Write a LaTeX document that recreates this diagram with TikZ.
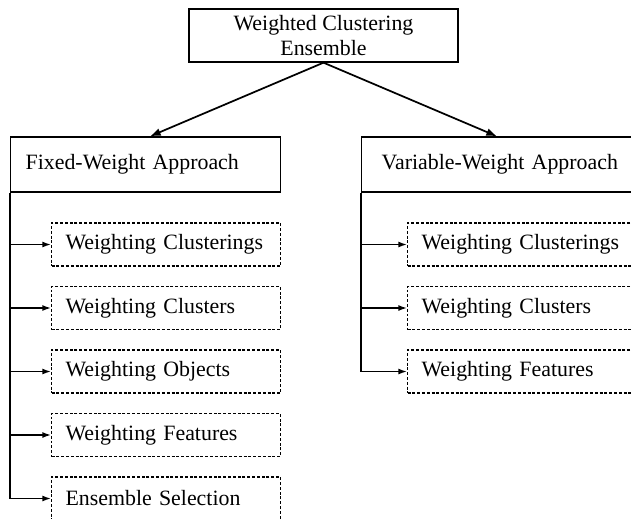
\documentclass[tikz,border=0pt]{standalone}
\usepackage{fontspec}
\setmainfont{Liberation Serif}
\usetikzlibrary{arrows.meta}
\tikzset{
	rootbox/.style={draw, line width=1pt, minimum width=201.75pt, minimum height=39.75pt, inner ysep=1pt, align=center},
	appbox/.style={draw, line width=1pt, minimum height=41.25pt, inner xsep=11.25pt, align=left, anchor=west},
	subbox/.style={draw, line width=0.85pt, dash pattern=on 2.2pt off 1.4pt, minimum width=171.75pt, minimum height=32.25pt, inner xsep=10.5pt, text width=150.75pt, align=left, anchor=west},
	mainarrow/.style={-{Latex[length=8pt,width=6pt]}, line width=1.3pt},
	subarrow/.style={-{Latex[length=6.5pt,width=4.5pt]}, line width=1.1pt}
}
\begin{document}
\begin{tikzpicture}[x=0.75pt, y=-0.75pt, font=\fontsize{16.4}{19}\selectfont]
	% page frame, same size as the reference
	\useasboundingbox (0,0) rectangle (631,518);
	\clip (0,0) rectangle (631,518);
	% the root
	\node[rootbox] (root) at (323.5,35.5) {Weighted Clustering\\Ensemble};
	% the two approaches
	\node[appbox, text width=180pt] (fixed) at (10,164.5) {Fixed-Weight Approach};
	\node[appbox, inner xsep=15pt, text width=183pt] (variable) at (361,164.5) {Variable-Weight Approach};
	\draw[mainarrow] (root.south) -- ([xshift=105pt]fixed.north west);
	\draw[mainarrow] (root.south) -- ([xshift=102pt]variable.north west);
	% fixed-weight branch
	\node[subbox] (fclusterings) at (51,244.5) {Weighting Clusterings};
	\node[subbox] (fclusters) at (51,308) {Weighting Clusters};
	\node[subbox] (fobjects) at (51,371.5) {Weighting Objects};
	\node[subbox] (ffeatures) at (51,435) {Weighting Features};
	\node[subbox] (fselection) at (51,498.5) {Ensemble Selection};
	\draw[line width=1.1pt] (fixed.south west) -- (fixed.south west |- fselection.west);
	\draw[subarrow] (fixed.south west |- fclusterings.west) -- (fclusterings.west);
	\draw[subarrow] (fixed.south west |- fclusters.west) -- (fclusters.west);
	\draw[subarrow] (fixed.south west |- fobjects.west) -- (fobjects.west);
	\draw[subarrow] (fixed.south west |- ffeatures.west) -- (ffeatures.west);
	\draw[subarrow] (fixed.south west |- fselection.west) -- (fselection.west);
	% variable-weight branch
	\node[subbox] (vclusterings) at (407,244.5) {Weighting Clusterings};
	\node[subbox] (vclusters) at (407,308) {Weighting Clusters};
	\node[subbox] (vfeatures) at (407,371.5) {Weighting Features};
	\draw[line width=1.1pt] (variable.south west) -- (variable.south west |- vfeatures.west);
	\draw[subarrow] (variable.south west |- vclusterings.west) -- (vclusterings.west);
	\draw[subarrow] (variable.south west |- vclusters.west) -- (vclusters.west);
	\draw[subarrow] (variable.south west |- vfeatures.west) -- (vfeatures.west);
\end{tikzpicture}
\end{document}
